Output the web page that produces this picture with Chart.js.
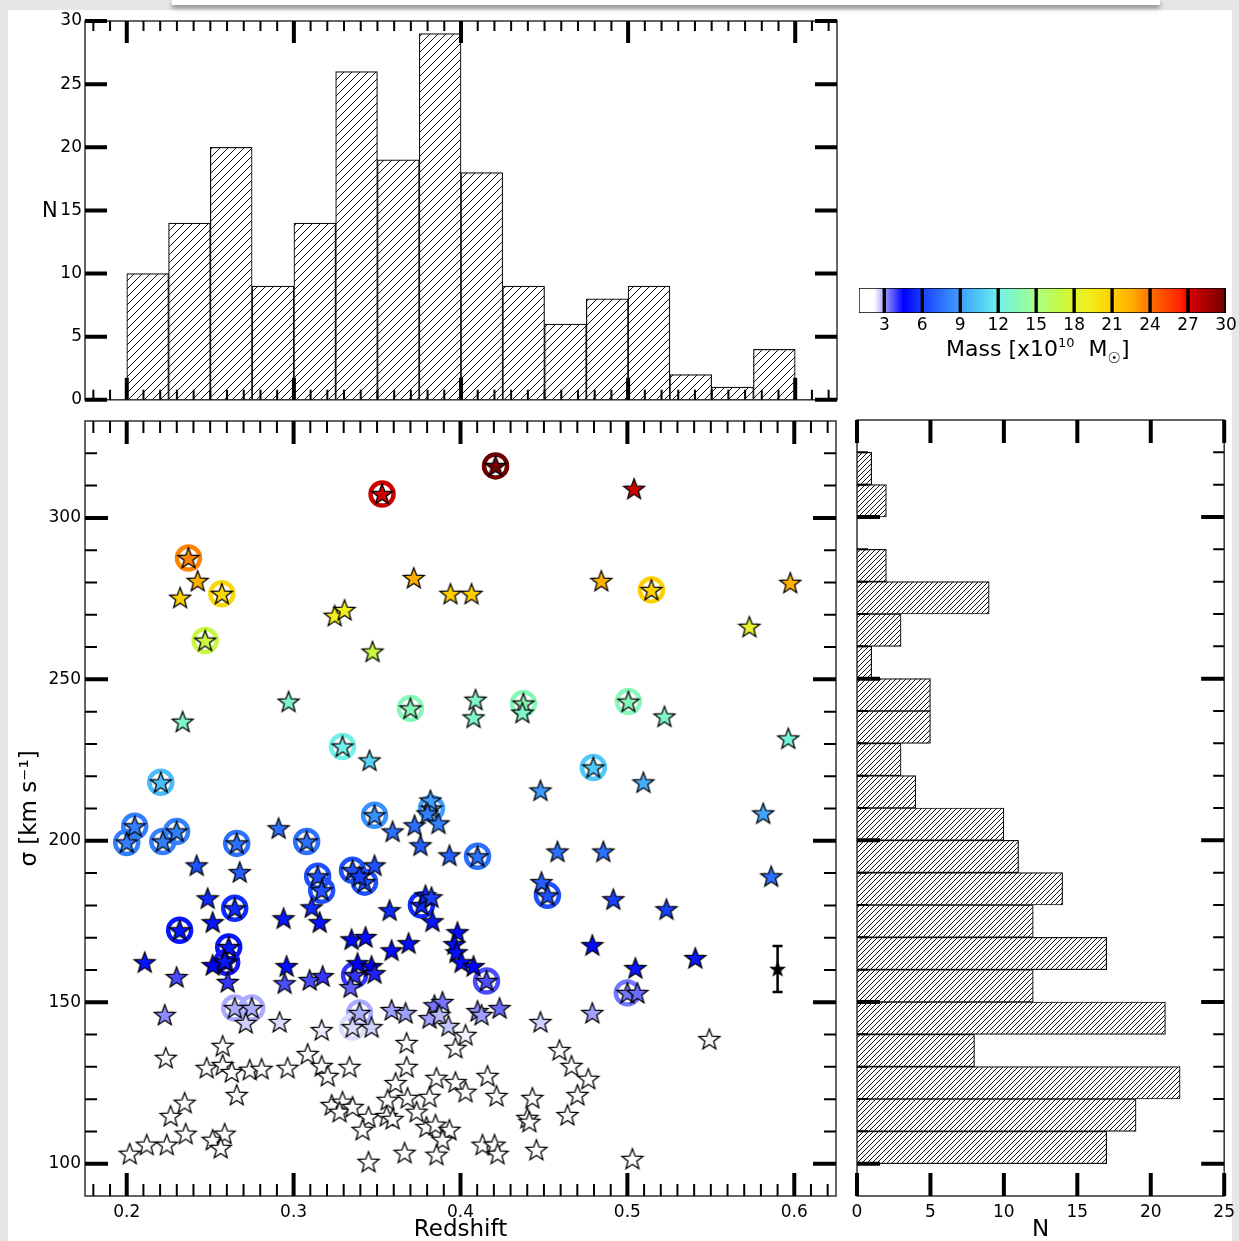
<!DOCTYPE html>
<html>
<head>
<meta charset="utf-8">
<script src="https://cdn.jsdelivr.net/npm/chart.js@4.4.1/dist/chart.umd.min.js"></script>
<style>
html, body { margin: 0; padding: 0; background: #e6e6e6; }
#fig { position: relative; width: 1239px; height: 1241px; overflow: hidden; }
#paper { position: absolute; left: 8px; top: 10px; width: 1224px; height: 1231px; background: #fff; }
#tab { position: absolute; left: 172px; top: 0; width: 988px; height: 5px; background: #fff; box-shadow: 0 3px 5px rgba(0,0,0,0.45); }
canvas { position: absolute; }
.lbl { position: absolute; font-family: 'DejaVu Sans', sans-serif; color: #000; white-space: nowrap; }
</style>
</head>
<body>
<div id="fig">
  <div id="paper"></div>
  <div id="tab"></div>
  <canvas id="topHist" width="850" height="413" style="left:0;top:0"></canvas>
  <canvas id="main" width="852" height="836" style="left:0;top:405px"></canvas>
  <canvas id="sideHist" width="396" height="831" style="left:845px;top:410px"></canvas>
  <canvas id="cbar" width="396" height="62" style="left:845px;top:280px"></canvas>
  <div class="lbl" style="left:42px;top:198px;font-size:21px">N</div>
  <div class="lbl" style="left:946px;top:336px;font-size:22px">Mass [x10<span style="font-size:13px;position:relative;top:-9px">10</span>&nbsp; M<span style="font-size:15px;position:relative;top:7px">☉</span>]</div>
</div>
<script>
const F = "'DejaVu Sans', sans-serif";

// histogram of redshift (bin starts, width 0.025)
const zBinLo = [0.2, 0.225, 0.25, 0.275, 0.3, 0.325, 0.35, 0.375, 0.4, 0.425, 0.45, 0.475, 0.5, 0.525, 0.55, 0.575];
const zCounts = [10, 14, 20, 9, 14, 26, 19, 29, 18, 9, 6, 8, 9, 2, 1, 4];

// histogram of sigma (bin starts, width 10)
const sigBinLo = [100, 110, 120, 130, 140, 150, 160, 170, 180, 190, 200, 210, 220, 230, 240, 250, 260, 270, 280, 290, 300, 310];
const sigCounts = [17, 19, 22, 8, 21, 12, 17, 12, 14, 11, 10, 4, 3, 5, 5, 1, 3, 9, 2, 0, 2, 1];

// galaxies: redshift, sigma [km/s], mass [1e10 Msun], ringed (1 = circled)
const redshift = [
  0.421, 0.353, 0.504, 0.237, 0.2425, 0.232, 0.257, 0.247, 0.372, 0.394, 0.4066, 0.3246, 0.3305, 0.3473, 0.4844, 0.5144, 0.5976, 0.5731,
  0.2335, 0.297, 0.370, 0.409, 0.4078, 0.4377, 0.4371, 0.5006, 0.5222, 0.5964, 0.3293, 0.3455, 0.2204, 0.4796, 0.5096, 0.4479, 0.5814, 0.5862,
  0.200, 0.2048, 0.2216, 0.2299, 0.2659, 0.291, 0.3078, 0.3485, 0.3593, 0.3725, 0.3826, 0.382, 0.3802, 0.3868, 0.376, 0.3934, 0.4102, 0.4581, 0.4856, 0.4485, 0.4521, 0.4916, 0.5234, 0.5407, 0.479, 0.5048, 0.5, 0.506,
  0.2419, 0.2677, 0.3144, 0.3168, 0.3108, 0.3156, 0.3353, 0.3425, 0.3485, 0.3395, 0.3575, 0.3766, 0.379, 0.3826, 0.3832, 0.2485, 0.2647, 0.2515, 0.2317, 0.2611, 0.2599, 0.2515, 0.2587, 0.2605, 0.2108, 0.2299, 0.294, 0.2958, 0.2946, 0.3096, 0.3174, 0.3347, 0.3431, 0.3587, 0.3689, 0.3365, 0.3383, 0.3467, 0.3485, 0.3341, 0.3982, 0.3964, 0.3976, 0.4006, 0.4078, 0.4156,
  0.2228, 0.2647, 0.2749, 0.2713, 0.2916, 0.3168, 0.3395, 0.3353, 0.3467, 0.3587, 0.3671, 0.3844, 0.3892, 0.3814, 0.3874, 0.3928, 0.4102, 0.4126, 0.4234, 0.4479, 0.479,
  0.403, 0.397, 0.3677, 0.3677, 0.3611, 0.3563, 0.3683, 0.3449, 0.3557, 0.3593, 0.3737, 0.3814, 0.3856, 0.397, 0.403, 0.4162, 0.4216, 0.3796, 0.385, 0.3934, 0.3892, 0.3665, 0.3856, 0.3449, 0.4132, 0.4204, 0.4222, 0.4431, 0.4401, 0.4413, 0.4455, 0.4593, 0.4665, 0.4766, 0.4701, 0.4641, 0.503, 0.5491,
  0.2234, 0.2575, 0.2479, 0.2575, 0.2629, 0.2737, 0.2808, 0.2659, 0.2964, 0.3084, 0.3168, 0.3204, 0.3335, 0.3228, 0.3293, 0.3275, 0.3353, 0.3413, 0.2347, 0.2263, 0.2353, 0.224, 0.212, 0.2018, 0.2515, 0.2587, 0.2563
];
const sigma = [
  316.1, 307.4, 309.0, 287.6, 280.5, 275.3, 276.5, 262.0, 281.4, 276.5, 276.5, 269.7, 271.5, 258.6, 280.5, 277.7, 279.9, 266.3,
  236.9, 243.1, 241.0, 243.7, 238.2, 242.5, 239.7, 243.1, 238.5, 231.7, 229.2, 224.9, 218.1, 222.7, 218.1, 215.6, 208.5, 189.0,
  199.5, 204.5, 199.8, 202.9, 199.2, 203.9, 199.8, 207.9, 202.9, 204.8, 210.0, 212.5, 208.5, 205.4, 198.6, 195.5, 195.2, 196.7, 196.7, 187.2, 183.1, 181.9, 178.8, 163.7, 167.7, 160.6, 152.9, 152.9,
  192.4, 190.3, 189.0, 184.7, 179.4, 174.8, 190.9, 187.2, 192.4, 189.0, 178.5, 180.1, 183.1, 182.5, 175.1, 182.2, 179.1, 174.8, 172.3, 167.1, 162.4, 161.5, 162.7, 156.3, 162.4, 157.8, 176.0, 161.2, 155.9, 156.9, 158.1, 169.5, 170.2, 166.1, 168.3, 158.4, 162.1, 161.2, 159.0, 154.7, 171.7, 168.0, 165.5, 162.4, 161.2, 156.6,
  146.1, 148.2, 148.2, 143.6, 143.9, 141.4, 146.7, 142.3, 142.3, 147.6, 146.7, 149.1, 150.1, 145.1, 146.1, 142.7, 147.3, 146.1, 148.2, 143.9, 146.7,
  139.9, 135.9, 137.4, 130.0, 125.0, 119.8, 120.4, 114.5, 114.8, 113.9, 116.1, 120.7, 126.6, 125.3, 122.3, 127.2, 121.0, 111.4, 112.1, 110.5, 107.4, 103.4, 102.8, 100.6, 105.9, 105.9, 103.1, 120.4, 114.2, 113.0, 104.3, 135.2, 130.3, 126.3, 121.3, 115.1, 101.5, 138.6,
  132.8, 136.5, 129.7, 130.6, 128.4, 129.1, 129.4, 121.3, 129.7, 134.0, 130.3, 127.2, 130.0, 118.2, 119.2, 116.1, 117.6, 110.5, 118.9, 114.8, 109.3, 105.9, 105.9, 103.1, 107.4, 109.3, 104.9
];
const mass = [
  30, 27.5, 27.5, 23.5, 22.5, 21, 20.5, 17, 22.5, 21, 21, 19, 19, 17, 22.5, 21, 22.5, 18.5,
  13, 13, 13.5, 13, 13, 13.5, 13, 13.5, 13, 12.5, 12, 11, 10, 10.5, 9.5, 8.8, 9.2, 7.5,
  8, 8, 8, 8, 7.5, 7.5, 7.5, 8.5, 7.5, 7.5, 9, 9, 8, 8, 7, 7, 7.5, 7.5, 7.5, 7, 6.5, 6, 6, 5, 4.7, 5, 3.4, 3.5,
  6.5, 7, 6.5, 6.5, 5.5, 5, 6.5, 6.5, 6.5, 6, 5.5, 5.5, 5.5, 6, 5, 5.5, 5.5, 5, 5, 5, 4.3, 4.5, 5, 4, 5, 3.8, 5, 4.8, 3.8, 3.8, 4, 4.8, 4.8, 4.8, 4.8, 4, 4.5, 4.5, 4.2, 3.6, 4.8, 4.8, 4.8, 4.8, 4.5, 3.8,
  3.2, 2.9, 2.9, 2.6, 2.5, 2.35, 2.9, 2.5, 2.6, 3.0, 3.0, 3.4, 3.4, 3.0, 2.8, 2.7, 3.2, 3.0, 3.5, 2.6, 3.0,
  2.3, 1.5, 1.5, 1.5, 1.5, 1.5, 1.5, 1.5, 1.5, 1.5, 1.5, 1.5, 1.5, 1.5, 1.5, 1.5, 1.5, 1.5, 1.5, 1.5, 1.5, 1.5, 1.5, 1.5, 1.5, 1.5, 1.5, 1.5, 1.5, 1.5, 1.5, 1.5, 1.5, 1.5, 1.5, 1.5, 1.5, 2.25,
  1.5, 1.5, 1.5, 1.5, 1.5, 1.5, 1.5, 1.5, 1.5, 1.5, 1.5, 1.5, 1.5, 1.5, 1.5, 1.5, 1.5, 1.5, 1.5, 1.5, 1.5, 1.5, 1.5, 1.5, 1.5, 1.5, 1.5
];
const ringed = [
  1, 1, 0, 1, 0, 0, 1, 1, 0, 0, 0, 0, 0, 0, 0, 1, 0, 0,
  0, 0, 1, 0, 0, 1, 0, 1, 0, 0, 1, 0, 1, 1, 0, 0, 0, 0,
  1, 1, 1, 1, 1, 0, 1, 1, 0, 0, 1, 0, 0, 0, 0, 0, 1, 0, 0, 0, 1, 0, 0, 0, 0, 0, 1, 0,
  0, 0, 1, 1, 0, 0, 1, 1, 0, 0, 0, 1, 0, 0, 0, 0, 1, 0, 1, 1, 1, 0, 0, 0, 0, 0, 0, 0, 0, 0, 0, 0, 0, 0, 0, 1, 0, 0, 0, 0, 0, 0, 0, 0, 0, 1,
  0, 1, 1, 0, 0, 0, 1, 1, 0, 0, 0, 0, 0, 0, 0, 0, 0, 0, 0, 0, 0
];

// typical error bar
const errZ = [0.59];
const errSig = [160.3];
const errSize = [7.1];

// tick labels
const zTicks = [0.2, 0.3, 0.4, 0.5, 0.6];
const sigTicks = [100, 150, 200, 250, 300];
const nTopTicks = [0, 5, 10, 15, 20, 25, 30];
const nSideTicks = [0, 5, 10, 15, 20, 25];
const massTicks = [3, 6, 9, 12, 15, 18, 21, 24, 27, 30];
const segLo = [1, 3, 6, 9, 12, 15, 18, 21, 24, 27];
const segHi = [3, 6, 9, 12, 15, 18, 21, 24, 27, 30];

const zMinor = [];
for (let k = 18; k <= 62; k++) if (k % 10) zMinor.push(k / 100);
const sigMinor = [];
for (let k = 10; k <= 32; k++) if (k % 5) sigMinor.push(k * 10);

// colour table (white -> blue -> cyan -> green -> yellow -> red)
const cmap = [[0, '#ffffff'], [2.2, '#ffffff'], [3, '#a0a0ff'], [4.5, '#0000ff'], [6, '#1840ff'], [9, '#40a0ff'], [10.5, '#50c8f8'],
  [12, '#70f0e8'], [13.5, '#88f8b8'], [15, '#a8ff88'], [17, '#c8f840'], [19, '#f0f020'], [21, '#ffd000'], [22.5, '#ffb000'],
  [24, '#ff7000'], [26.5, '#ff2000'], [27, '#e00000'], [30, '#700000']];

const hexRgb = h => [1, 3, 5].map(i => parseInt(h.substr(i, 2), 16));
function massColor(m) {
  for (let i = 1; i < cmap.length; i++) {
    if (m <= cmap[i][0]) {
      const a = hexRgb(cmap[i - 1][1]), b = hexRgb(cmap[i][1]);
      const t = (m - cmap[i - 1][0]) / (cmap[i][0] - cmap[i - 1][0]);
      const c = a.map((v, j) => Math.round(v + (b[j] - v) * t));
      return 'rgb(' + c.join(',') + ')';
    }
  }
  return cmap[cmap.length - 1][1];
}

const starCache = {};
function starImg(color, R) {
  const key = color + '|' + R;
  if (starCache[key]) return starCache[key];
  const s = Math.ceil(2 * R + 4);
  const c = document.createElement('canvas');
  c.width = s; c.height = s;
  const g = c.getContext('2d');
  g.translate(s / 2, s / 2 + R * 0.08);
  g.beginPath();
  for (let k = 0; k < 10; k++) {
    const rr = k % 2 ? R * 0.42 : R;
    const a = -Math.PI / 2 + k * Math.PI / 5;
    if (k) g.lineTo(rr * Math.cos(a), rr * Math.sin(a)); else g.moveTo(rr * Math.cos(a), rr * Math.sin(a));
  }
  g.closePath();
  g.fillStyle = color;
  g.fill();
  g.lineWidth = 1.3;
  g.strokeStyle = '#000';
  g.stroke();
  starCache[key] = c;
  return c;
}

function hatch(ctx, step, lw) {
  const c = document.createElement('canvas');
  c.width = step; c.height = step;
  const g = c.getContext('2d');
  g.fillStyle = '#fff';
  g.fillRect(0, 0, step, step);
  g.strokeStyle = '#111';
  g.lineWidth = lw;
  g.beginPath();
  g.moveTo(-1, step + 1); g.lineTo(step + 1, -1);
  g.moveTo(-step / 2, step / 2); g.lineTo(step / 2, -step / 2);
  g.moveTo(step / 2, step * 1.5); g.lineTo(step * 1.5, step / 2);
  g.stroke();
  return ctx.createPattern(c, 'repeat');
}

// inward ticks on all four sides, plus the frame
const inTicks = {
  id: 'inTicks',
  afterDatasetsDraw(chart, args, o) {
    const { ctx, chartArea: a, scales } = chart;
    const x = scales.x, y = scales.y;
    ctx.save();
    ctx.lineCap = 'butt';
    ctx.strokeStyle = '#333';
    ctx.lineWidth = 1.5;
    ctx.strokeRect(a.left, a.top, a.right - a.left, a.bottom - a.top);
    ctx.strokeStyle = '#000';
    const vx = (vals, len, w) => {
      ctx.lineWidth = w;
      ctx.beginPath();
      vals.forEach(v => {
        const p = x.getPixelForValue(v);
        ctx.moveTo(p, a.bottom); ctx.lineTo(p, a.bottom - len);
        ctx.moveTo(p, a.top); ctx.lineTo(p, a.top + len);
      });
      ctx.stroke();
    };
    const hy = (vals, len, w) => {
      ctx.lineWidth = w;
      ctx.beginPath();
      vals.forEach(v => {
        const p = y.getPixelForValue(v);
        ctx.moveTo(a.left, p); ctx.lineTo(a.left + len, p);
        ctx.moveTo(a.right, p); ctx.lineTo(a.right - len, p);
      });
      ctx.stroke();
    };
    vx(o.xMinor || [], o.minLen, 2);
    vx(o.xMajor || [], o.majLen, 4);
    hy(o.yMinor || [], o.minLen, 2);
    hy(o.yMajor || [], o.majLen, 4);
    ctx.restore();
  }
};

const errBar = {
  id: 'errBar',
  afterDatasetsDraw(chart) {
    const { ctx, scales: { x, y } } = chart;
    ctx.save();
    ctx.strokeStyle = '#000';
    ctx.lineWidth = 2.5;
    errZ.forEach((z, i) => {
      const px = x.getPixelForValue(z);
      const p0 = y.getPixelForValue(errSig[i] - errSize[i]);
      const p1 = y.getPixelForValue(errSig[i] + errSize[i]);
      ctx.beginPath();
      ctx.moveTo(px, p0); ctx.lineTo(px, p1);
      ctx.moveTo(px - 5, p0); ctx.lineTo(px + 5, p0);
      ctx.moveTo(px - 5, p1); ctx.lineTo(px + 5, p1);
      ctx.stroke();
    });
    ctx.restore();
  }
};

const tickFont = { family: F, size: 17 };
const setTicks = vals => s => { s.ticks = vals.map(v => ({ value: v })); };
const common = { responsive: false, animation: false, events: [] };

// ---- top histogram ----
const topCv = document.getElementById('topHist');
new Chart(topCv, {
  type: 'bar',
  data: {
    datasets: [{
      data: zBinLo.map((z, i) => ({ x: z + 0.0125, y: zCounts[i] })),
      backgroundColor: hatch(topCv.getContext('2d'), 8, 1),
      borderColor: '#111',
      borderWidth: 1.2,
      barPercentage: 1,
      categoryPercentage: 1
    }]
  },
  options: {
    ...common,
    layout: { padding: { top: 21, right: 13, bottom: 11, left: 0 } },
    plugins: {
      legend: { display: false }, tooltip: { enabled: false },
      inTicks: { xMajor: zTicks, xMinor: zMinor, yMajor: nTopTicks, majLen: 22, minLen: 10 }
    },
    scales: {
      x: { type: 'linear', display: false, offset: false, min: 0.175, max: 0.625 },
      y: {
        min: 0, max: 30,
        afterBuildTicks: setTicks(nTopTicks),
        afterFit(s) { s.width = 85; },
        grid: { display: false, drawTicks: false },
        border: { display: false },
        ticks: { font: tickFont, color: '#000', padding: 3 }
      }
    }
  },
  plugins: [inTicks]
});

// ---- main scatter ----
const ringData = [];
redshift.forEach((z, i) => { if (ringed[i]) ringData.push({ x: z, y: sigma[i], m: mass[i] }); });

new Chart(document.getElementById('main'), {
  type: 'scatter',
  data: {
    datasets: [
      {
        data: redshift.map((z, i) => ({ x: z, y: sigma[i], m: mass[i] })),
        pointStyle: c => starImg(massColor(c.raw.m), 11),
        pointRadius: 10
      },
      {
        data: errZ.map((z, i) => ({ x: z, y: errSig[i] })),
        pointStyle: starImg('#000', 7),
        pointRadius: 6
      },
      {
        data: ringData,
        pointStyle: 'circle',
        pointRadius: 11.5,
        pointBorderWidth: 4.5,
        pointBorderColor: c => massColor(c.raw.m),
        pointBackgroundColor: 'rgba(255,255,255,0)'
      }
    ]
  },
  options: {
    ...common,
    layout: { padding: { top: 10, right: 13, left: 0, bottom: 0 } },
    plugins: {
      legend: { display: false }, tooltip: { enabled: false },
      inTicks: { xMajor: zTicks, xMinor: zMinor, yMajor: sigTicks, yMinor: sigMinor, majLen: 23, minLen: 12 }
    },
    scales: {
      x: {
        type: 'linear', min: 0.175, max: 0.625,
        afterBuildTicks: setTicks(zTicks),
        afterFit(s) { s.height = 45; },
        grid: { display: false, drawTicks: false },
        border: { display: false },
        ticks: { font: tickFont, color: '#000', padding: 6, maxRotation: 0, autoSkip: false, callback: v => String(v) },
        title: { display: true, text: 'Redshift', font: { family: F, size: 23 }, color: '#000', padding: { top: 0, bottom: -3 } }
      },
      y: {
        type: 'linear', min: 90, max: 330,
        afterBuildTicks: setTicks(sigTicks),
        afterFit(s) { s.width = 85; },
        grid: { display: false, drawTicks: false },
        border: { display: false },
        ticks: { font: tickFont, color: '#000', padding: 4 },
        title: { display: true, text: 'σ [km s⁻¹]', font: { family: F, size: 23 }, color: '#000', padding: { top: 16, bottom: 0 } }
      }
    }
  },
  plugins: [errBar, inTicks]
});

// ---- side histogram ----
const sideCv = document.getElementById('sideHist');
new Chart(sideCv, {
  type: 'bar',
  data: {
    datasets: [{
      data: sigBinLo.map((s, i) => ({ y: s + 5, x: sigCounts[i] })),
      backgroundColor: hatch(sideCv.getContext('2d'), 5, 1),
      borderColor: '#111',
      borderWidth: 1.2,
      barPercentage: 1,
      categoryPercentage: 1
    }]
  },
  options: {
    ...common,
    indexAxis: 'y',
    layout: { padding: { top: 10, right: 15, left: 12, bottom: 0 } },
    plugins: {
      legend: { display: false }, tooltip: { enabled: false },
      inTicks: { xMajor: nSideTicks, yMajor: sigTicks, yMinor: sigMinor, majLen: 23, minLen: 11 }
    },
    scales: {
      y: { type: 'linear', display: false, offset: false, min: 90, max: 330 },
      x: {
        type: 'linear', min: 0, max: 25,
        afterBuildTicks: setTicks(nSideTicks),
        afterFit(s) { s.height = 45; },
        grid: { display: false, drawTicks: false },
        border: { display: false },
        ticks: { font: tickFont, color: '#000', padding: 6, maxRotation: 0, autoSkip: false },
        title: { display: true, text: 'N', font: { family: F, size: 23 }, color: '#000', padding: { top: 0, bottom: -3 } }
      }
    }
  },
  plugins: [inTicks]
});

// ---- colour bar ----
function segGradient(lo, hi) {
  return c => {
    const ch = c.chart;
    if (!ch.chartArea) return '#fff';
    const xs = ch.scales.x;
    const g = ch.ctx.createLinearGradient(xs.getPixelForValue(lo), 0, xs.getPixelForValue(hi), 0);
    for (let k = 0; k <= 10; k++) g.addColorStop(k / 10, massColor(lo + (hi - lo) * k / 10));
    return g;
  };
}

new Chart(document.getElementById('cbar'), {
  type: 'bar',
  data: {
    labels: ['m'],
    datasets: segLo.map((lo, i) => ({
      data: [[lo, segHi[i]]],
      backgroundColor: segGradient(lo, segHi[i]),
      borderColor: '#000',
      borderWidth: { left: i === 0 ? 1 : 2, right: 2, top: 1, bottom: 1 },
      borderSkipped: false,
      grouped: false,
      barPercentage: 1,
      categoryPercentage: 1
    }))
  },
  options: {
    ...common,
    indexAxis: 'y',
    layout: { padding: { top: 8, right: 15, left: 14, bottom: 0 } },
    plugins: { legend: { display: false }, tooltip: { enabled: false } },
    scales: {
      y: { display: false },
      x: {
        type: 'linear', min: 1, max: 30,
        afterBuildTicks: setTicks(massTicks),
        afterFit(s) { s.height = 29; },
        grid: { display: false, drawTicks: false },
        border: { display: false },
        ticks: { font: tickFont, color: '#000', padding: 2, maxRotation: 0, autoSkip: false }
      }
    }
  }
});
</script>
</body>
</html>
